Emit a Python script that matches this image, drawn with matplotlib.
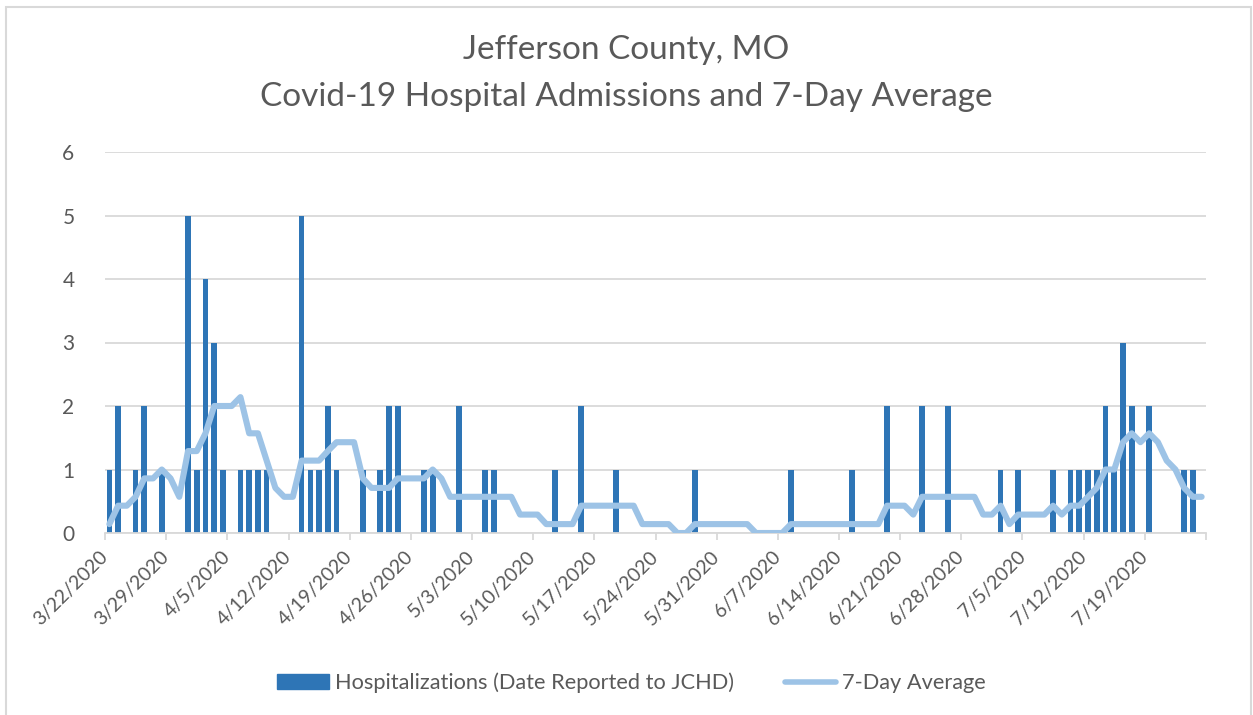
import matplotlib
matplotlib.use("Agg")
import matplotlib.pyplot as plt
from matplotlib.patches import Patch, Rectangle
from matplotlib.lines import Line2D
import pandas as pd

plt.rcParams['font.family'] = ['Lato', 'DejaVu Sans']

# ---- data ----
dates = pd.date_range("2020-03-22", "2020-07-25", freq="D")
date_labels = [f"{d.month}/{d.day}/{d.year}" for d in dates]

# non-zero daily admissions: index (days since 3/22) -> count
admission_days = [0, 1, 3, 4, 6, 9, 10, 11, 12, 13, 15, 16, 17, 18,
                  22, 23, 24, 25, 26, 29, 31, 32, 33, 36, 37, 40,
                  43, 44, 51, 54, 58, 67, 78, 85, 89, 93, 96,
                  102, 104, 108, 110, 111, 112, 113, 114, 115, 116, 117, 119, 123, 124]
admission_counts = [1, 2, 1, 2, 1, 5, 1, 4, 3, 1, 1, 1, 1, 1,
                    5, 1, 1, 2, 1, 1, 1, 2, 2, 1, 1, 2,
                    1, 1, 1, 2, 1, 1, 1, 1, 2, 2, 2,
                    1, 1, 1, 1, 1, 1, 1, 2, 1, 3, 2, 2, 1, 1]

hospitalizations = [0] * len(dates)
for d, c in zip(admission_days, admission_counts):
    hospitalizations[d] = c

avg7 = [0.14, 0.43, 0.43, 0.57, 0.86, 0.86, 1.00, 0.86, 0.57, 1.29,
        1.29, 1.57, 2.00, 2.00, 2.00, 2.14, 1.57, 1.57, 1.14, 0.71,
        0.57, 0.57, 1.14, 1.14, 1.14, 1.29, 1.43, 1.43, 1.43, 0.86,
        0.71, 0.71, 0.71, 0.86, 0.86, 0.86, 0.86, 1.00, 0.86, 0.57,
        0.57, 0.57, 0.57, 0.57, 0.57, 0.57, 0.57, 0.29, 0.29, 0.29,
        0.14, 0.14, 0.14, 0.14, 0.43, 0.43, 0.43, 0.43, 0.43, 0.43,
        0.43, 0.14, 0.14, 0.14, 0.14, 0.00, 0.00, 0.14, 0.14, 0.14,
        0.14, 0.14, 0.14, 0.14, 0.00, 0.00, 0.00, 0.00, 0.14, 0.14,
        0.14, 0.14, 0.14, 0.14, 0.14, 0.14, 0.14, 0.14, 0.14, 0.43,
        0.43, 0.43, 0.29, 0.57, 0.57, 0.57, 0.57, 0.57, 0.57, 0.57,
        0.29, 0.29, 0.43, 0.14, 0.29, 0.29, 0.29, 0.29, 0.43, 0.29,
        0.43, 0.43, 0.57, 0.71, 1.00, 1.00, 1.43, 1.57, 1.43, 1.57,
        1.43, 1.14, 1.00, 0.71, 0.57, 0.57]

title_lines = ["Jefferson County, MO", "Covid-19 Hospital Admissions and 7-Day Average"]
bar_label = "Hospitalizations (Date Reported to JCHD)"
line_label = "7-Day Average"
y_ticks = [0, 1, 2, 3, 4, 5, 6]

# ---- style ----
TXT = "#595959"
GRID = "#D9D9D9"
BAR = "#2E75B6"
LINE = "#9DC3E6"

W, H = 1253, 715
fig = plt.figure(figsize=(W / 100, H / 100), dpi=100)
fig.patch.set_facecolor("white")

ax = fig.add_axes([105 / W, 1 - 533 / H, (1206 - 105) / W, (533 - 152) / H])

n = len(dates)
x = [i + 0.5 for i in range(n)]
ax.bar(x, hospitalizations, width=0.65, color=BAR, zorder=2)
ax.plot(x, avg7, color=LINE, lw=4.4, solid_joinstyle="round",
        solid_capstyle="round", zorder=3)

ax.set_xlim(0, n)
ax.set_ylim(0, 6)
ax.set_yticks(y_ticks)
ax.set_yticklabels([str(t) for t in y_ticks])
ax.yaxis.grid(True, color=GRID, lw=1.3, zorder=0)
ax.set_axisbelow(True)

xt = list(range(0, n + 1, 7))
ax.set_xticks(xt)
ax.set_xticklabels([date_labels[i] if i < n else "" for i in xt],
                   rotation=45, ha="right", va="center",
                   rotation_mode="anchor")

for s in ["top", "right", "left"]:
    ax.spines[s].set_visible(False)
ax.spines["bottom"].set_color(GRID)
ax.spines["bottom"].set_linewidth(1.3)

ax.tick_params(axis="y", length=0, pad=22, labelsize=15, labelcolor=TXT)
ax.tick_params(axis="x", length=5, width=1.3, color=GRID, pad=10,
               labelsize=14, labelcolor=TXT)

fig.text(0.5, 1 - 50 / H, title_lines[0], ha="center", va="center",
         fontsize=24, color=TXT)
fig.text(0.5, 1 - 97 / H, title_lines[1], ha="center", va="center",
         fontsize=24, color=TXT)

handles = [Patch(facecolor=BAR, edgecolor=BAR),
           Line2D([0], [0], color=LINE, lw=4.0, solid_capstyle="round")]
leg = fig.legend(handles, [bar_label, line_label], loc="center",
                 bbox_to_anchor=(631.5 / W, 1 - 683 / H), ncol=2, frameon=False,
                 fontsize=15.7, labelcolor=TXT, handlelength=2.35,
                 handleheight=0.65, handletextpad=0.27, columnspacing=2.35)

fig.patches.append(Rectangle((6 / W, -0.05), (1251 - 6) / W, 1.05 - 7 / H,
                             transform=fig.transFigure, fill=False,
                             edgecolor=GRID, lw=1.5))

fig.savefig("out.png", dpi=100, facecolor="white")
